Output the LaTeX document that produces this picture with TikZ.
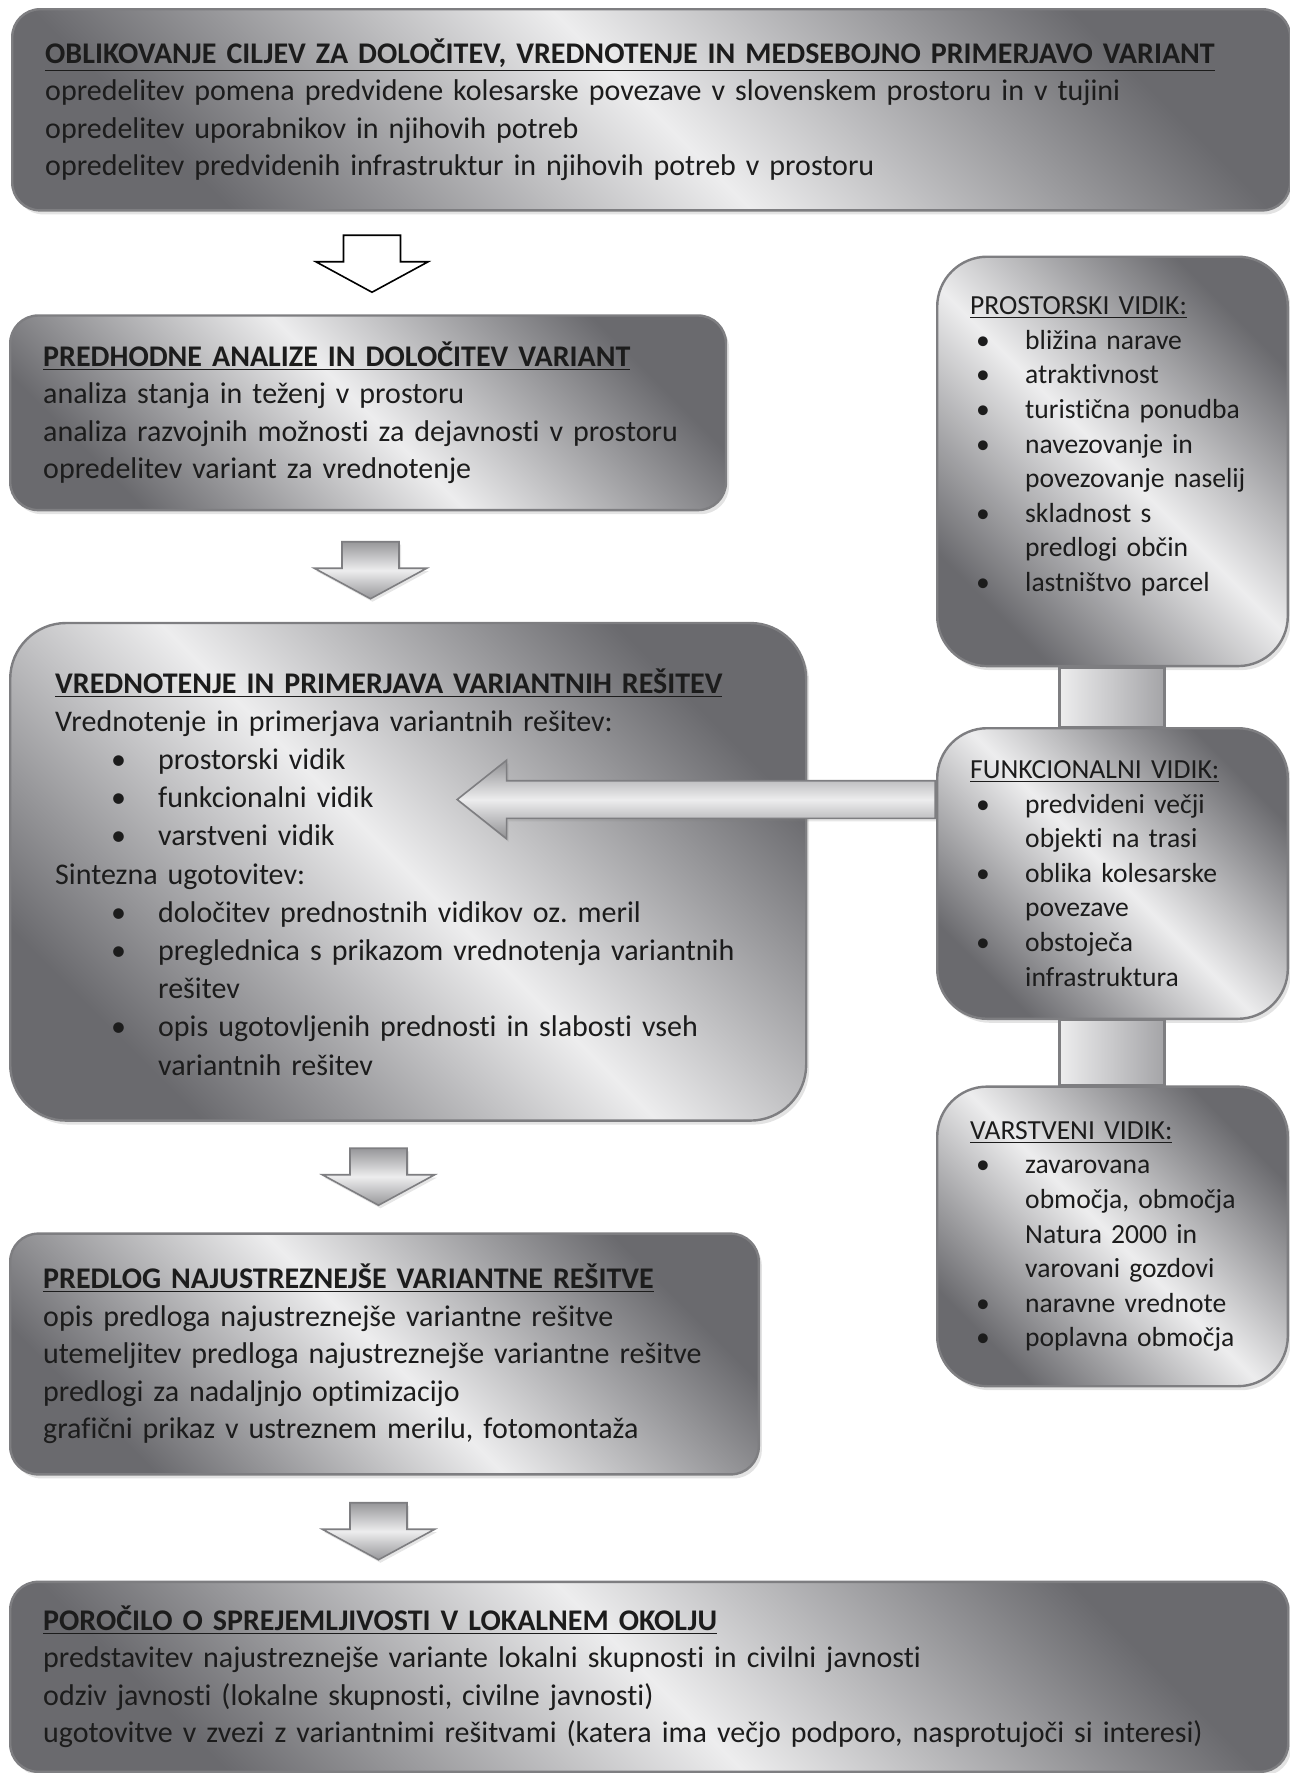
\documentclass[tikz,border=0pt]{standalone}
\usepackage{fontspec}
\setmainfont{Carlito}[Ligatures={NoCommon}]
\frenchspacing
\usetikzlibrary{shapes.arrows,shadows,calc}

\definecolor{boxDark}{HTML}{6A6A6E}
\definecolor{boxLight}{HTML}{EDEDEE}
\definecolor{boxEdge}{HTML}{7E7E81}
\definecolor{barDark}{HTML}{A4A4A7}
\definecolor{inkGray}{HTML}{1C1C1C}

\newcommand{\bul}[1]{\hspace*{28pt}\makebox[23.5pt][l]{\textbullet}#1}
\newcommand{\bulcont}[1]{\hspace*{51.5pt}#1}
\newcommand{\sbul}[1]{\hspace*{3pt}\makebox[24.5pt][l]{\textbullet}#1}
\newcommand{\sbulcont}[1]{\hspace*{27.5pt}#1}
\newcommand{\headline}[1]{\textbf{\underline{#1}}}

\begin{document}
\begin{tikzpicture}[
  x=0.5pt,y=-0.5pt,
  stage/.style={draw=boxEdge,line width=1.2pt,rounded corners=14pt,
                top color=boxDark,bottom color=boxDark,middle color=boxLight,
                shading angle=-45,
                drop shadow={shadow xshift=1.5pt,shadow yshift=-2pt,opacity=0.22},
                anchor=north west,align=left,text=inkGray,inner xsep=16.5pt,
                font=\fontsize{15}{18.8}\selectfont},
  aspect/.style={stage,rounded corners=25pt,font=\fontsize{13.8}{17.3}\selectfont,
                 text width=142.3pt,minimum width=175.3pt},
  downarrow/.style={single arrow,rotate=-90,minimum height=28.5pt,minimum width=0pt,
                    inner xsep=0pt,inner ysep=13.85pt,single arrow head extend=13.85pt,
                    single arrow tip angle=123},
  shadedarrow/.style={downarrow,draw=boxEdge,line width=0.8pt,
                      top color=boxDark!70,bottom color=boxDark!70,middle color=boxLight,
                      drop shadow={shadow xshift=1pt,shadow yshift=-1.5pt,opacity=0.2}},
  linkbar/.style={draw=boxEdge,line width=1.2pt,left color=boxLight,right color=barDark},
]
  \useasboundingbox (0,0) rectangle (1290,1773);

  % main flow
  \node[stage,minimum width=637.6pt,minimum height=100.6pt,text width=606pt] (goals) at (11,8) {%
    \headline{OBLIKOVANJE CILJEV ZA DOLOČITEV, VREDNOTENJE IN MEDSEBOJNO PRIMERJAVO VARIANT}\\
    opredelitev pomena predvidene kolesarske povezave v slovenskem prostoru in v tujini\\
    opredelitev uporabnikov in njihovih potreb\\
    opredelitev predvidenih infrastruktur in njihovih potreb v prostoru\\[3pt]};

  \node[stage,minimum width=357.9pt,minimum height=97.3pt,text width=324.9pt] (prelim) at (9,314.3) {%
    \headline{PREDHODNE ANALIZE IN DOLOČITEV VARIANT}\\
    analiza stanja in teženj v prostoru\\
    analiza razvojnih možnosti za dejavnosti v prostoru\\
    opredelitev variant za vrednotenje};

  \node[stage,rounded corners=28pt,inner xsep=22.5pt,minimum width=398pt,minimum height=248.8pt,
        text width=353pt,font=\fontsize{15}{19.1}\selectfont] (assess) at (9,621.8) {%
    \headline{VREDNOTENJE IN PRIMERJAVA VARIANTNIH REŠITEV}\\
    Vrednotenje in primerjava variantnih rešitev:\\
    \bul{prostorski vidik}\\
    \bul{funkcionalni vidik}\\
    \bul{varstveni vidik}\\
    Sintezna ugotovitev:\\
    \bul{določitev prednostnih vidikov oz. meril}\\
    \bul{preglednica s prikazom vrednotenja variantnih}\\
    \bulcont{rešitev}\\
    \bul{opis ugotovljenih prednosti in slabosti vseh}\\
    \bulcont{variantnih rešitev}};

  \node[stage,minimum width=374.3pt,minimum height=120.4pt,text width=341.3pt] (proposal) at (9,1232.4) {%
    \headline{PREDLOG NAJUSTREZNEJŠE VARIANTNE REŠITVE}\\
    opis predloga najustreznejše variantne rešitve\\
    utemeljitev predloga najustreznejše variantne rešitve\\
    predlogi za nadaljnjo optimizacijo\\
    grafični prikaz v ustreznem merilu, fotomontaža};

  \node[stage,minimum width=638.8pt,minimum height=95pt,text width=606pt] (report) at (9,1580.6) {%
    \headline{POROČILO O SPREJEMLJIVOSTI V LOKALNEM OKOLJU}\\
    predstavitev najustreznejše variante lokalni skupnosti in civilni javnosti\\
    odziv javnosti (lokalne skupnosti, civilne javnosti)\\
    ugotovitve v zvezi z variantnimi rešitvami (katera ima večjo podporo, nasprotujoči si interesi)};

  % arrows between stages
  \node[downarrow,draw=black,line width=0.8pt,fill=white] (a1) at (372,256) {};
  \node[shadedarrow] (a2) at (370.5,562.5) {};
  \node[shadedarrow] (a3) at (378.5,1169) {};
  \node[shadedarrow] (a4) at (378.5,1523.5) {};

  % aspects on the right
  \node[aspect,minimum height=204.7pt] (spatial) at (936,255.5) {%
    \underline{PROSTORSKI VIDIK:}\\
    \sbul{bližina narave}\\
    \sbul{atraktivnost}\\
    \sbul{turistična ponudba}\\
    \sbul{navezovanje in}\\
    \sbulcont{povezovanje naselij}\\
    \sbul{skladnost s}\\
    \sbulcont{predlogi občin}\\
    \sbul{lastništvo parcel}\\
    \rule{0pt}{0pt}};

  \node[aspect,minimum height=145.3pt] (functional) at (936,727) {%
    \underline{FUNKCIONALNI VIDIK:}\\
    \sbul{predvideni večji}\\
    \sbulcont{objekti na trasi}\\
    \sbul{oblika kolesarske}\\
    \sbulcont{povezave}\\
    \sbul{obstoječa}\\
    \sbulcont{infrastruktura}};

  \node[aspect,minimum height=149.8pt] (protect) at (936,1085.4) {%
    \underline{VARSTVENI VIDIK:}\\
    \sbul{zavarovana}\\
    \sbulcont{območja, območja}\\
    \sbulcont{Natura 2000 in}\\
    \sbulcont{varovani gozdovi}\\
    \sbul{naravne vrednote}\\
    \sbul{poplavna območja}};

  \draw[linkbar] ($(spatial.south)+(-53,0)$) rectangle ($(functional.north)+(52,0)$);
  \draw[linkbar] ($(functional.south)+(-53,0)$) rectangle ($(protect.north)+(52,0)$);

  \node[single arrow,rotate=180,anchor=tail,minimum height=239pt,minimum width=0pt,
        inner xsep=0pt,inner ysep=9pt,single arrow head extend=10.25pt,
        single arrow tip angle=77,draw=boxEdge,line width=0.8pt,
        top color=boxDark!75,bottom color=boxDark!75,middle color=boxLight,
        drop shadow={shadow xshift=1pt,shadow yshift=-1.5pt,opacity=0.2}]
    (feed) at ($(functional.west)+(0,-74)$) {};
\end{tikzpicture}
\end{document}
